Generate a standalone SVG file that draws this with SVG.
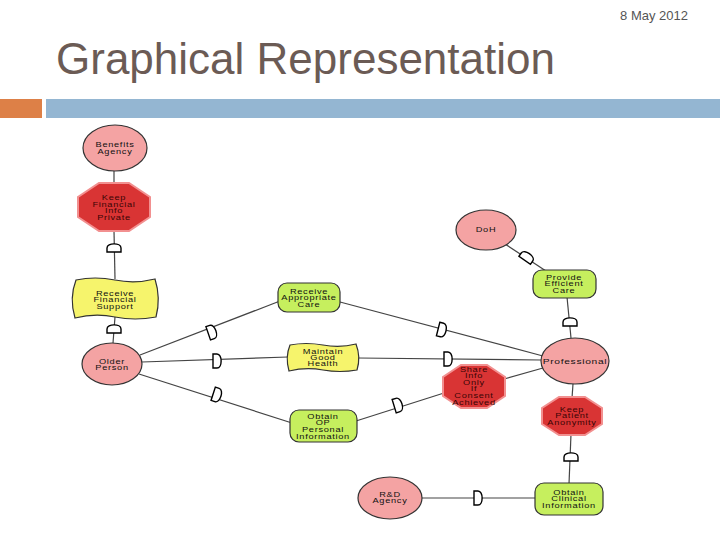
<svg xmlns="http://www.w3.org/2000/svg" width="720" height="540" viewBox="0 0 720 540">
<style>
.title{font-family:"Liberation Sans",Arial,sans-serif;font-size:44px;fill:#6b5b55}
.date{font-family:"Liberation Sans",Arial,sans-serif;font-size:13px;fill:#555}
.t{font-family:"Liberation Sans",Arial,sans-serif;font-size:6.6px;letter-spacing:0.5px;fill:#111;text-anchor:middle}
.tr{fill:#3a0505}
.actor{fill:#f4a3a3;stroke:#333;stroke-width:1.2}
.goal{fill:#c6ef5e;stroke:#333;stroke-width:1.2}
.soft{fill:#f6f46c;stroke:#333;stroke-width:1.2}
.oct{fill:#d93434;stroke:#f29090;stroke-width:2}
.link{stroke:#444;stroke-width:1.2;fill:none}
</style>
<defs>
<path id="dep" d="M-4,-7 H0 C5.5,-7 5.5,7 0,7 H-4 Z" fill="#fff" stroke="#000" stroke-width="1.4"/>
</defs>
<rect width="720" height="540" fill="#fff"/>
<text class="date" x="688" y="20" text-anchor="end">8 May 2012</text>
<text class="title" x="56" y="74">Graphical Representation</text>
<rect x="0" y="99" width="42" height="19" fill="#dd8047"/>
<rect x="46" y="99" width="674" height="19" fill="#94b6d2"/>

<g id="connectors">
<line class="link" x1="114" y1="171" x2="114" y2="184"/>
<line class="link" x1="114" y1="231" x2="115" y2="279"/>
<line class="link" x1="115" y1="317" x2="113" y2="343"/>
<line class="link" x1="140" y1="355" x2="280" y2="301"/>
<line class="link" x1="142" y1="362" x2="288" y2="357"/>
<line class="link" x1="139" y1="374" x2="292" y2="423"/>
<line class="link" x1="340" y1="302" x2="543" y2="356"/>
<line class="link" x1="358" y1="358" x2="541" y2="360"/>
<line class="link" x1="356" y1="421" x2="444" y2="393"/>
<line class="link" x1="504" y1="379" x2="543" y2="368"/>
<line class="link" x1="505" y1="244" x2="546" y2="271"/>
<line class="link" x1="567" y1="297" x2="571" y2="338"/>
<line class="link" x1="573" y1="384" x2="572" y2="398"/>
<line class="link" x1="571" y1="434" x2="569" y2="484"/>
<line class="link" x1="422" y1="498" x2="536" y2="498"/>
<use href="#dep" transform="translate(114,248) rotate(-90)"/>
<use href="#dep" transform="translate(114,329) rotate(-90)"/>
<use href="#dep" transform="translate(212,332) rotate(-19)"/>
<use href="#dep" transform="translate(217,361)"/>
<use href="#dep" transform="translate(217,395) rotate(18)"/>
<use href="#dep" transform="translate(442,330) rotate(14)"/>
<use href="#dep" transform="translate(448,359)"/>
<use href="#dep" transform="translate(398,405) rotate(-17)"/>
<use href="#dep" transform="translate(527,257) rotate(-55)"/>
<use href="#dep" transform="translate(570,322) rotate(-90)"/>
<use href="#dep" transform="translate(571,457) rotate(-90)"/>
<use href="#dep" transform="translate(478,498)"/>
</g>

<g id="benefits-agency">
<ellipse class="actor" cx="115" cy="148" rx="32" ry="23"/>
<g transform="translate(115,0) scale(1.4,1)">
<text class="t" x="0" y="147">Benefits</text>
<text class="t" x="0" y="154">Agency</text>
</g>
</g>
<g id="keep-financial-info-private">
<polygon class="oct" points="99,183 129,183 150,197 150,217 129,231 99,231 78,217 78,197"/>
<g transform="translate(114,0) scale(1.4,1)">
<text class="t tr" x="0" y="200">Keep</text>
<text class="t tr" x="0" y="207">Financial</text>
<text class="t tr" x="0" y="213.5">Info</text>
<text class="t tr" x="0" y="220">Private</text>
</g>
</g>
<g id="receive-financial-support">
<path class="soft" d="M76,280 Q95,276 115,280 Q135,284 155,279 Q161,298 156,317 Q135,321 115,317 Q95,313 75,318 Q69,298 76,280 Z"/>
<g transform="translate(115,0) scale(1.4,1)">
<text class="t" x="0" y="296">Receive</text>
<text class="t" x="0" y="302.5">Financial</text>
<text class="t" x="0" y="309">Support</text>
</g>
</g>
<g id="older-person">
<ellipse class="actor" cx="112" cy="364" rx="30" ry="21"/>
<g transform="translate(112,0) scale(1.4,1)">
<text class="t" x="0" y="364">Older</text>
<text class="t" x="0" y="370.5">Person</text>
</g>
</g>
<g id="receive-appropriate-care">
<rect class="goal" x="278" y="283" width="62" height="29" rx="9"/>
<g transform="translate(309,0) scale(1.4,1)">
<text class="t" x="0" y="294">Receive</text>
<text class="t" x="0" y="300.5">Appropriate</text>
<text class="t" x="0" y="307">Care</text>
</g>
</g>
<g id="maintain-good-health">
<path class="soft" d="M290,345 Q306,342 323,345 Q340,348 356,344 Q361,357 357,370 Q340,373 323,370 Q306,367 289,371 Q285,357 290,345 Z"/>
<g transform="translate(323,0) scale(1.4,1)">
<text class="t" x="0" y="354">Maintain</text>
<text class="t" x="0" y="360">Good</text>
<text class="t" x="0" y="366">Health</text>
</g>
</g>
<g id="obtain-op-personal-information">
<rect class="goal" x="290" y="410" width="67" height="32" rx="9"/>
<g transform="translate(323,0) scale(1.4,1)">
<text class="t" x="0" y="419">Obtain</text>
<text class="t" x="0" y="425.5">OP</text>
<text class="t" x="0" y="432">Personal</text>
<text class="t" x="0" y="439">Information</text>
</g>
</g>
<g id="doh">
<ellipse class="actor" cx="486" cy="230" rx="30" ry="20"/>
<g transform="translate(486,0) scale(1.4,1)">
<text class="t" x="0" y="232">DoH</text>
</g>
</g>
<g id="provide-efficient-care">
<rect class="goal" x="533" y="270" width="63" height="28" rx="9"/>
<g transform="translate(564,0) scale(1.4,1)">
<text class="t" x="0" y="280">Provide</text>
<text class="t" x="0" y="286">Efficient</text>
<text class="t" x="0" y="293">Care</text>
</g>
</g>
<g id="professional">
<ellipse class="actor" cx="575" cy="361" rx="34" ry="23"/>
<g transform="translate(575,0) scale(1.35,1)">
<text class="t" x="0" y="364" style="font-size:7.6px">Professional</text>
</g>
</g>
<g id="share-info-only-if-consent-achieved">
<polygon class="oct" points="461,365 487,365 505,377 505,396 487,408 461,408 443,396 443,377"/>
<g transform="translate(474,0) scale(1.4,1)">
<text class="t tr" x="0" y="372.5">Share</text>
<text class="t tr" x="0" y="378.5">Info</text>
<text class="t tr" x="0" y="385">Only</text>
<text class="t tr" x="0" y="391">If</text>
<text class="t tr" x="0" y="398.5">Consent</text>
<text class="t tr" x="0" y="405">Achieved</text>
</g>
</g>
<g id="keep-patient-anonymity">
<polygon class="oct" points="559,397 585,397 602,408 602,424 585,435 559,435 542,424 542,408"/>
<g transform="translate(572,0) scale(1.4,1)">
<text class="t tr" x="0" y="412">Keep</text>
<text class="t tr" x="0" y="418.5">Patient</text>
<text class="t tr" x="0" y="425">Anonymity</text>
</g>
</g>
<g id="obtain-clinical-information">
<rect class="goal" x="535" y="483" width="68" height="32" rx="9"/>
<g transform="translate(569,0) scale(1.4,1)">
<text class="t" x="0" y="495">Obtain</text>
<text class="t" x="0" y="501.5">Clinical</text>
<text class="t" x="0" y="508">Information</text>
</g>
</g>
<g id="rd-agency">
<ellipse class="actor" cx="390" cy="498" rx="32" ry="21"/>
<g transform="translate(390,0) scale(1.4,1)">
<text class="t" x="0" y="497">R&amp;D</text>
<text class="t" x="0" y="503.5">Agency</text>
</g>
</g>
</svg>
